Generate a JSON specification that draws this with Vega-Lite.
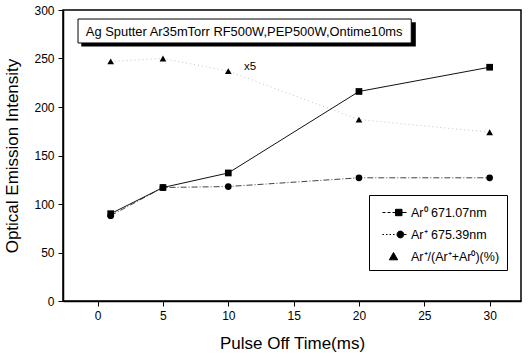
{
  "$schema": "https://vega.github.io/schema/vega-lite/v6.json",
  "width": 458,
  "height": 291,
  "autosize": "none",
  "padding": {"left": 63, "top": 10, "right": 7, "bottom": 52},
  "background": "white",
  "config": {
    "font": "Liberation Sans",
    "view": {"stroke": "black", "strokeWidth": 1.5},
    "axis": {"grid": false, "domainColor": "black", "domainWidth": 1.5, "tickColor": "black", "labelColor": "black", "titleColor": "black", "labelFont": "Liberation Sans", "titleFont": "Liberation Sans", "titleFontWeight": "normal"}
  },
  "data": {
    "values": [
      {"t": 1, "v": 90, "series": "Ar⁰ 671.07nm"},
      {"t": 5, "v": 117, "series": "Ar⁰ 671.07nm"},
      {"t": 10, "v": 132, "series": "Ar⁰ 671.07nm"},
      {"t": 20, "v": 216, "series": "Ar⁰ 671.07nm"},
      {"t": 30, "v": 241, "series": "Ar⁰ 671.07nm"},
      {"t": 1, "v": 88, "series": "Ar⁺ 675.39nm"},
      {"t": 5, "v": 117, "series": "Ar⁺ 675.39nm"},
      {"t": 10, "v": 118, "series": "Ar⁺ 675.39nm"},
      {"t": 20, "v": 127, "series": "Ar⁺ 675.39nm"},
      {"t": 30, "v": 127, "series": "Ar⁺ 675.39nm"},
      {"t": 1, "v": 247, "series": "Ar⁺/(Ar⁺+Ar⁰)(%)"},
      {"t": 5, "v": 250, "series": "Ar⁺/(Ar⁺+Ar⁰)(%)"},
      {"t": 10, "v": 237, "series": "Ar⁺/(Ar⁺+Ar⁰)(%)"},
      {"t": 20, "v": 187, "series": "Ar⁺/(Ar⁺+Ar⁰)(%)"},
      {"t": 30, "v": 174, "series": "Ar⁺/(Ar⁺+Ar⁰)(%)"}
    ]
  },
  "resolve": {"scale": {"shape": "independent"}},
  "layer": [
    {
      "transform": [{"filter": "datum.series === 'Ar⁺/(Ar⁺+Ar⁰)(%)'"}],
      "mark": {"type": "line", "strokeWidth": 1, "color": "#c4c4c4", "strokeDash": [1, 3]},
      "encoding": {
        "x": {
          "field": "t", "type": "quantitative",
          "scale": {"domain": [-2.65, 32.4], "nice": false, "zero": false},
          "axis": {
            "title": "Pulse Off Time(ms)",
            "values": [0, 2.5, 5, 7.5, 10, 12.5, 15, 17.5, 20, 22.5, 25, 27.5, 30],
            "labelExpr": "datum.value % 5 === 0 ? datum.label : ''",
            "tickSize": {"condition": {"test": "datum.value % 5 === 0", "value": 5}, "value": -3},
            "labelFontSize": 12, "labelPadding": 4,
            "titleFontSize": 17, "titlePadding": 14
          }
        },
        "y": {
          "field": "v", "type": "quantitative",
          "scale": {"domain": [0, 300], "nice": false},
          "axis": {
            "title": "Optical Emission Intensity",
            "values": [0, 25, 50, 75, 100, 125, 150, 175, 200, 225, 250, 275, 300],
            "labelExpr": "datum.value % 50 === 0 ? datum.label : ''",
            "tickSize": {"condition": {"test": "datum.value % 50 === 0", "value": 5}, "value": -3},
            "labelFontSize": 12, "labelPadding": 4,
            "titleFontSize": 17, "titlePadding": 12
          }
        }
      }
    },
    {
      "transform": [{"filter": "datum.series === 'Ar⁺ 675.39nm'"}],
      "mark": {"type": "line", "strokeWidth": 1, "color": "#444444", "strokeDash": [6, 2, 1, 2]},
      "encoding": {
        "x": {"field": "t", "type": "quantitative"},
        "y": {"field": "v", "type": "quantitative"}
      }
    },
    {
      "transform": [{"filter": "datum.series === 'Ar⁰ 671.07nm'"}],
      "mark": {"type": "line", "strokeWidth": 1, "color": "#111111"},
      "encoding": {
        "x": {"field": "t", "type": "quantitative"},
        "y": {"field": "v", "type": "quantitative"}
      }
    },
    {
      "mark": {"type": "point", "filled": true, "color": "black", "stroke": "black", "strokeWidth": 1, "opacity": 1, "size": 400, "clip": true},
      "encoding": {
        "x": {"field": "v", "type": "quantitative", "scale": {"domain": [-2.65, 32.4], "nice": false, "zero": false}, "axis": {"title": "Pulse Off Time(ms)"}},
        "y": {"field": "t", "type": "quantitative", "scale": {"domain": [0, 300], "nice": false}, "axis": {"title": "Optical Emission Intensity"}},
        "shape": {
          "field": "series",
          "scale": {
            "domain": ["Ar⁰ 671.07nm", "Ar⁺ 675.39nm", "Ar⁺/(Ar⁺+Ar⁰)(%)"],
            "range": [
              "M-0.4,0H-0.1M0.1,0H0.4M0.6,0H0.9M0.9,-0.32H1.55V0.32H0.9ZM1.55,0H2",
              "M-0.4,0H-0.25M-0.05,0H0.1M0.3,0H0.45M0.65,0H0.8M1.05,0A0.34,0.34 0 1,0 1.73,0A0.34,0.34 0 1,0 1.05,0ZM1.73,0H2",
              "M0.7,-0.4L1.12,0.33H0.28Z"
            ]
          },
          "legend": {
            "title": null,
            "orient": "none",
            "legendX": 306,
            "legendY": 185,
            "padding": 7,
            "strokeColor": "black",
            "fillColor": "white",
            "symbolSize": 400,
            "symbolStrokeWidth": 1,
            "labelFontSize": 12.5,
            "labelOffset": 14,
            "rowPadding": 5,
            "labelColor": "black"
          }
        }
      }
    },
    {
      "mark": {"type": "point", "filled": true, "color": "black", "opacity": 1, "size": 45},
      "encoding": {
        "x": {"field": "t", "type": "quantitative"},
        "y": {"field": "v", "type": "quantitative"},
        "shape": {
          "field": "series",
          "scale": {"domain": ["Ar⁰ 671.07nm", "Ar⁺ 675.39nm", "Ar⁺/(Ar⁺+Ar⁰)(%)"], "range": ["square", "circle", "triangle-up"]},
          "legend": null
        }
      }
    },
    {
      "data": {"values": [{"x": -1.25, "x2": 24.35, "y": 287.5, "y2": 262.5}]},
      "mark": {"type": "rect", "fill": "black"},
      "encoding": {
        "x": {"field": "x", "type": "quantitative"},
        "x2": {"field": "x2"},
        "y": {"field": "y", "type": "quantitative"},
        "y2": {"field": "y2"}
      }
    },
    {
      "data": {"values": [{"x": -1.5, "x2": 24.0, "y": 290.7, "y2": 266}]},
      "mark": {"type": "rect", "fill": "white", "stroke": "black", "strokeWidth": 1},
      "encoding": {
        "x": {"field": "x", "type": "quantitative"},
        "x2": {"field": "x2"},
        "y": {"field": "y", "type": "quantitative"},
        "y2": {"field": "y2"}
      }
    },
    {
      "data": {"values": [{"label": "Ag Sputter Ar35mTorr RF500W,PEP500W,Ontime10ms", "x": -0.9, "y": 277.8}]},
      "mark": {"type": "text", "align": "left", "baseline": "middle", "fontSize": 12.9, "color": "black"},
      "encoding": {
        "x": {"field": "x", "type": "quantitative"},
        "y": {"field": "y", "type": "quantitative"},
        "text": {"field": "label"}
      }
    },
    {
      "data": {"values": [{"label": "x5", "x": 11.2, "y": 241.5}]},
      "mark": {"type": "text", "align": "left", "baseline": "middle", "fontSize": 11.5, "color": "black"},
      "encoding": {
        "x": {"field": "x", "type": "quantitative"},
        "y": {"field": "y", "type": "quantitative"},
        "text": {"field": "label"}
      }
    }
  ]
}
